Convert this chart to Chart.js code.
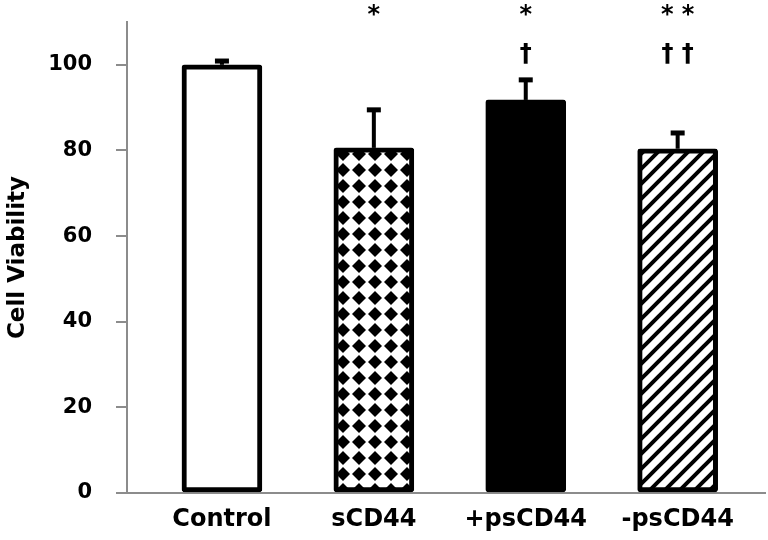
<!DOCTYPE html>
<html lang="en">
<head>
  <meta charset="UTF-8">
  <title>Cell Viability</title>
  <style>
    html, body { margin: 0; padding: 0; background: white; }
    .wrap { width: 768px; height: 540px; }
  </style>
</head>
<body>
  <div class="wrap"><canvas id="viabilityChart" width="768" height="540"></canvas></div>

  <script src="https://cdn.jsdelivr.net/npm/chart.js"></script>
  <script>
    // values
    const categories = ['Control', 'sCD44', '+psCD44', '-psCD44'];
    const viability = [100, 80.6, 91.8, 80.4];
    const errorUp = [1, 9, 4.8, 3.8];
    const starMarks = ['', '*', '*', '* *'];
    const daggerMarks = ['', '', '\u2020', '\u2020 \u2020'];
    const yTicks = [0, 20, 40, 60, 80, 100];

    function diamondPattern() {
      const c = document.createElement('canvas');
      c.width = 16; c.height = 16;
      const g = c.getContext('2d');
      g.fillStyle = '#fff';
      g.fillRect(0, 0, 16, 16);
      g.fillStyle = '#000';
      g.beginPath();
      g.moveTo(8, 1); g.lineTo(15, 8); g.lineTo(8, 15); g.lineTo(1, 8);
      g.closePath();
      g.fill();
      const p = g.createPattern(c, 'repeat');
      p.setTransform(new DOMMatrix().translate(335 % 16, 146 % 16));
      return p;
    }

    function stripePattern() {
      const c = document.createElement('canvas');
      c.width = 15; c.height = 15;
      const g = c.getContext('2d');
      g.fillStyle = '#fff';
      g.fillRect(0, 0, 15, 15);
      g.strokeStyle = '#000';
      g.lineWidth = 4;
      g.beginPath();
      g.moveTo(-2, 17); g.lineTo(17, -2);
      g.moveTo(-2, 2); g.lineTo(2, -2);
      g.moveTo(13, 17); g.lineTo(17, 13);
      g.stroke();
      return g.createPattern(c, 'repeat');
    }

    const errorBars = {
      id: 'errorBars',
      afterDatasetsDraw(chart) {
        const ctx = chart.ctx;
        const xs = chart.scales.x, ys = chart.scales.y;
        ctx.save();
        ctx.fillStyle = '#000';
        viability.forEach((v, i) => {
          const x = xs.getPixelForValue(i);
          const y0 = ys.getPixelForValue(v);
          const y1 = ys.getPixelForValue(v + errorUp[i]);
          ctx.fillRect(x - 2, y1, 4, y0 - y1);
          ctx.fillRect(x - 7, y1 - 2, 14, 5);
        });
        ctx.restore();
      }
    };

    const sigMarks = {
      id: 'sigMarks',
      afterDraw(chart) {
        const ctx = chart.ctx;
        const xs = chart.scales.x;
        const top = chart.chartArea.top;
        ctx.save();
        ctx.fillStyle = '#000';
        ctx.textAlign = 'center';
        ctx.textBaseline = 'middle';
        categories.forEach((c, i) => {
          const x = xs.getPixelForValue(i);
          ctx.font = 'bold 24px "DejaVu Sans"';
          ctx.fillText(starMarks[i], x, top - 6);
          ctx.fillText(daggerMarks[i], x, top + 33);
        });
        ctx.restore();
      }
    };

    function noPad(s) {
      s.paddingTop = 0; s.paddingBottom = 0;
      s.paddingLeft = 0; s.paddingRight = 0;
    }

    const ctx = document.getElementById('viabilityChart').getContext('2d');
    new Chart(ctx, {
      type: 'bar',
      data: {
        datasets: [{
          data: viability.map((v, i) => ({ x: i, y: v })),
          backgroundColor: ['#ffffff', diamondPattern(), '#000000', stripePattern()],
          borderColor: '#000',
          borderWidth: 5,
          borderSkipped: false,
          borderRadius: 3,
          barThickness: 80
        }]
      },
      options: {
        responsive: false,
        animation: false,
        layout: { padding: { top: 22, right: 3, left: 0, bottom: 0 } },
        plugins: { legend: { display: false }, tooltip: { enabled: false } },
        scales: {
          x: {
            type: 'linear',
            min: -0.625,
            max: 3.575,
            offset: false,
            bounds: 'data',
            grid: { display: false, drawTicks: false, offset: false },
            border: { display: true, color: '#8c8c8c', width: 2 },
            afterBuildTicks: s => { s.ticks = categories.map((c, i) => ({ value: i })); },
            afterFit: s => { s.height = 47; noPad(s); },
            ticks: {
              callback: v => categories[v],
              color: '#000',
              padding: 12,
              maxRotation: 0,
              autoSkip: false,
              font: { family: 'DejaVu Sans', size: 24, weight: 'bold' }
            }
          },
          y: {
            min: 0,
            max: 110,
            grid: { drawOnChartArea: false, drawTicks: true, tickLength: 11, color: '#8c8c8c', lineWidth: 2 },
            border: { display: true, color: '#8c8c8c', width: 2 },
            afterBuildTicks: s => { s.ticks = yTicks.map(v => ({ value: v })); },
            afterFit: s => { s.width = 127; noPad(s); },
            ticks: {
              color: '#000',
              padding: 24,
              font: { family: 'DejaVu Sans', size: 21, weight: 'bold' }
            },
            title: {
              display: true,
              text: 'Cell Viability',
              color: '#000',
              padding: { top: 4, bottom: 0 },
              font: { family: 'DejaVu Sans', size: 23, weight: 'bold' }
            }
          }
        }
      },
      plugins: [errorBars, sigMarks]
    });
  </script>
</body>
</html>
